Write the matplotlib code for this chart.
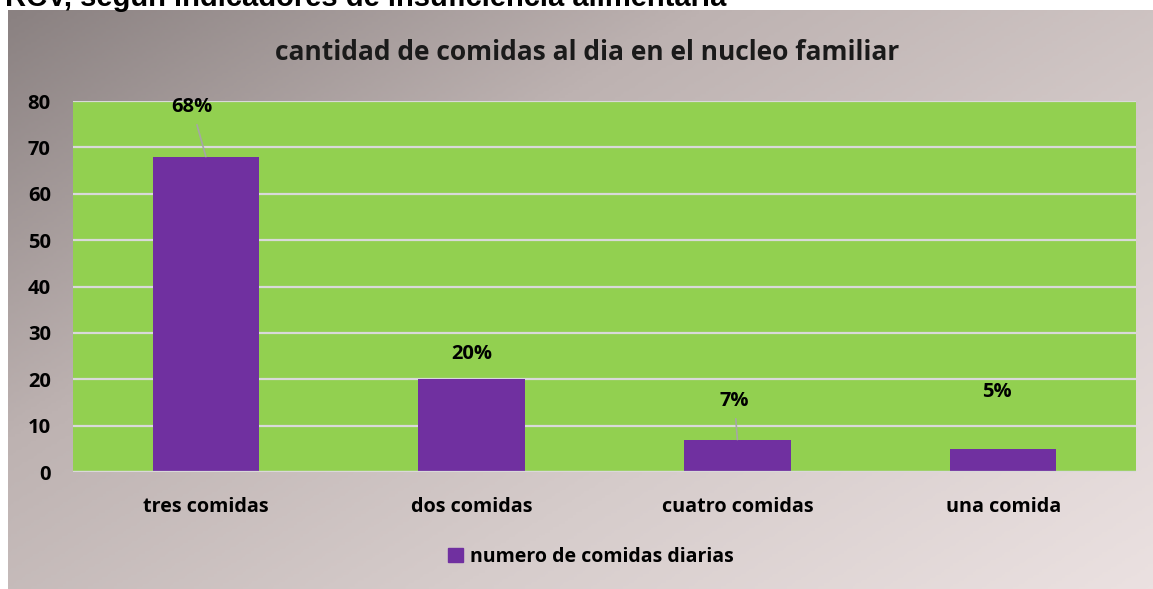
import numpy as np
import matplotlib
matplotlib.use('Agg')
import matplotlib.pyplot as plt
from matplotlib.colors import LinearSegmentedColormap

# Data
categories = ['tres comidas', 'dos comidas', 'cuatro comidas', 'una comida']
values = [68, 20, 7, 5]
labels = ['68%', '20%', '7%', '5%']
series_name = 'numero de comidas diarias'
title = 'cantidad de comidas al dia en el nucleo familiar'
top_text = 'RCV, según indicadores de insuficiencia alimentaria'

# label offsets from bar top (pixels) and whether a leader line shows
label_dx = [-14, 0, -3, -6]
label_dy = [50, 25, 39, 57]
leader = [True, False, True, False]

W, H = 1153, 589
fig = plt.figure(figsize=(W / 100, H / 100), dpi=100, facecolor='white')
plt.rcParams['font.family'] = ['Open Sans', 'DejaVu Sans']

# Gradient chart background
bg = fig.add_axes([8 / W, 0, 1 - 8 / W, (H - 10) / H])
bg.set_axis_off()
yy, xx = np.mgrid[0:1:200j, 0:1:400j]
t = (xx * 0.55 + yy * 0.45)
cmap = LinearSegmentedColormap.from_list('bg', ['#8a8181', '#bdb2b1', '#d6cccb', '#ebe1e1'])
bg.imshow(t, cmap=cmap, aspect='auto', extent=[0, 1, 0, 1], origin='upper')
bg.set_xlim(0, 1)
bg.set_ylim(0, 1)

fig.text(5 / W, 1 - 6 / H, top_text, fontsize=21, fontweight='bold',
         family='Liberation Sans', ha='left', va='baseline', color='black')

# Plot area
x0, x1 = 73, 1136
y_top, y_bot = 101, 472
ax = fig.add_axes([x0 / W, (H - y_bot) / H, (x1 - x0) / W, (y_bot - y_top) / H])
ax.set_facecolor('#92d050')
x = np.arange(len(categories))
ax.bar(x, values, width=0.4, color='#7030a0', zorder=3)
ax.set_xlim(-0.5, len(categories) - 0.5)
ax.set_ylim(0, 80)
ax.set_yticks(np.arange(0, 81, 10))
ax.yaxis.grid(True, color='#d9d9d9', linewidth=1.6, zorder=1)
ax.set_axisbelow(True)
for s in ax.spines.values():
    s.set_visible(False)
ax.tick_params(length=0)
ax.tick_params(axis='y', pad=16, labelsize=14.5)
ax.tick_params(axis='x', pad=18, labelsize=14.2)
for lbl in ax.get_yticklabels() + ax.get_xticklabels():
    lbl.set_fontweight('bold')
ax.set_xticks(x)
ax.set_xticklabels(categories)
ax.axhline(0, color='#d9d9d9', linewidth=1.6, zorder=4)

for i, (v, lab) in enumerate(zip(values, labels)):
    ap = dict(arrowstyle='-', color='#a6a6a6', lw=1.2, shrinkA=4, shrinkB=0) if leader[i] else None
    ax.annotate(lab, xy=(x[i], v), xytext=(label_dx[i] * 0.72, label_dy[i] * 0.72),
                textcoords='offset points', ha='center', va='center',
                fontsize=14.5, fontweight='bold', arrowprops=ap, zorder=5)

fig.text(587 / W, 1 - 52 / H, title, fontsize=19, fontweight='bold',
         ha='center', va='center', color='#1a1a1a')

# Legend
fig.legend([plt.Rectangle((0, 0), 1, 1, color='#7030a0')], [series_name],
           loc='center', bbox_to_anchor=(591 / W, 1 - 557 / H), frameon=False,
           prop={'weight': 'bold', 'size': 14}, handlelength=0.75, handleheight=0.75,
           handletextpad=0.4)

fig.savefig('out.png', dpi=100)
